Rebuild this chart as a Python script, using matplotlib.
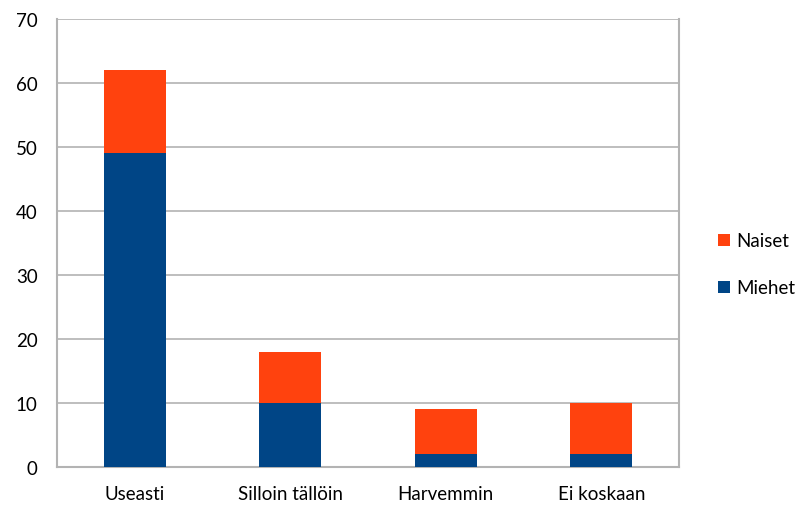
import numpy as np
import matplotlib.pyplot as plt

plt.rcParams['font.family'] = ['Lato', 'DejaVu Sans']

# answer categories and counts per group
categories = ["Useasti", "Silloin tällöin", "Harvemmin", "Ei koskaan"]
miehet = [49, 10, 2, 2]
naiset = [13, 8, 7, 8]

blue = "#004586"
orange = "#ff420e"
grid_col = "#b3b3b3"

fig = plt.figure(figsize=(7.99, 5.06), dpi=100)
ax = fig.add_axes([57 / 799, 1 - 468 / 506, (679 - 57) / 799, (468 - 20) / 506])

x = np.arange(len(categories))
ax.bar(x, miehet, width=0.4, color=blue, label="Miehet", zorder=3)
ax.bar(x, naiset, width=0.4, bottom=miehet, color=orange, label="Naiset", zorder=3)

ax.set_xlim(-0.5, len(categories) - 0.5)
ax.set_ylim(0, 70)
ax.set_yticks(range(0, 71, 10))
ax.set_xticks(x)
ax.set_xticklabels(categories)
ax.yaxis.grid(True, color=grid_col, linewidth=1.2, zorder=0)

for side in ["left", "bottom", "right"]:
    ax.spines[side].set_color(grid_col)
    ax.spines[side].set_linewidth(1.5)
ax.spines["top"].set_visible(False)
ax.tick_params(axis="y", length=0, pad=14, labelsize=13.5, colors="black")
ax.tick_params(axis="x", length=0, pad=13, labelsize=13.5, colors="black")

handles, labels = ax.get_legend_handles_labels()
fig.legend(handles[::-1], labels[::-1], loc="center left",
           bbox_to_anchor=(718 / 799, 1 - 265.5 / 506), frameon=False,
           borderpad=0, borderaxespad=0,
           fontsize=13.5, handlelength=0.65, handleheight=0.65,
           handletextpad=0.35, labelspacing=1.6)

fig.savefig("out.png", dpi=100)
